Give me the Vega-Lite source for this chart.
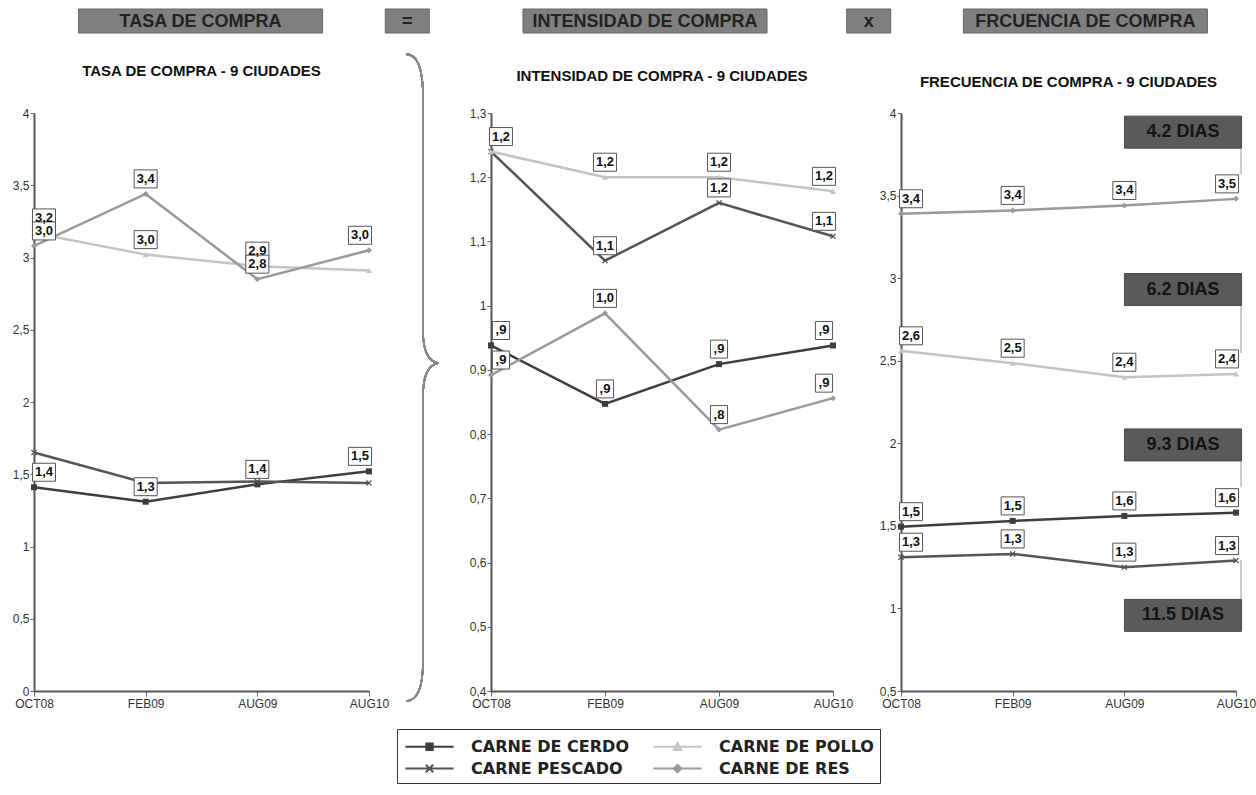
{
  "$schema": "https://vega.github.io/schema/vega-lite/v6.json",
  "background": "white",
  "padding": {"left": 12, "top": 8, "right": 0, "bottom": 0},
  "config": {
    "view": {"stroke": null},
    "axis": {"title": null, "grid": false, "domainColor": "#555", "domainWidth": 2, "tickColor": "#666", "labelFont": "Liberation Sans Narrow, Arial Narrow, Liberation Sans", "labelFontSize": 12, "labelColor": "#333"}
  },
  "datasets": {
    "cabecera": [
      {"t": "TASA DE COMPRA"}, {"t": "="}, {"t": "INTENSIDAD DE COMPRA"}, {"t": "x"}, {"t": "FRCUENCIA DE COMPRA"}
    ],
    "tasa": [
      {"serie": "CARNE DE CERDO", "periodo": "OCT08", "valor": 1.41, "etiqueta": "1,4"},
      {"serie": "CARNE DE CERDO", "periodo": "FEB09", "valor": 1.31, "etiqueta": "1,3"},
      {"serie": "CARNE DE CERDO", "periodo": "AUG09", "valor": 1.43, "etiqueta": "1,4"},
      {"serie": "CARNE DE CERDO", "periodo": "AUG10", "valor": 1.52, "etiqueta": "1,5"},
      {"serie": "CARNE PESCADO", "periodo": "OCT08", "valor": 1.65, "etiqueta": null},
      {"serie": "CARNE PESCADO", "periodo": "FEB09", "valor": 1.44, "etiqueta": null},
      {"serie": "CARNE PESCADO", "periodo": "AUG09", "valor": 1.45, "etiqueta": null},
      {"serie": "CARNE PESCADO", "periodo": "AUG10", "valor": 1.44, "etiqueta": null},
      {"serie": "CARNE DE POLLO", "periodo": "OCT08", "valor": 3.17, "etiqueta": "3,2"},
      {"serie": "CARNE DE POLLO", "periodo": "FEB09", "valor": 3.02, "etiqueta": "3,0"},
      {"serie": "CARNE DE POLLO", "periodo": "AUG09", "valor": 2.94, "etiqueta": "2,9"},
      {"serie": "CARNE DE POLLO", "periodo": "AUG10", "valor": 2.91, "etiqueta": null},
      {"serie": "CARNE DE RES", "periodo": "OCT08", "valor": 3.08, "etiqueta": "3,0"},
      {"serie": "CARNE DE RES", "periodo": "FEB09", "valor": 3.44, "etiqueta": "3,4"},
      {"serie": "CARNE DE RES", "periodo": "AUG09", "valor": 2.85, "etiqueta": "2,8"},
      {"serie": "CARNE DE RES", "periodo": "AUG10", "valor": 3.05, "etiqueta": "3,0"}
    ],
    "intensidad": [
      {"serie": "CARNE DE CERDO", "periodo": "OCT08", "valor": 0.938, "etiqueta": ",9"},
      {"serie": "CARNE DE CERDO", "periodo": "FEB09", "valor": 0.847, "etiqueta": ",9"},
      {"serie": "CARNE DE CERDO", "periodo": "AUG09", "valor": 0.909, "etiqueta": ",9"},
      {"serie": "CARNE DE CERDO", "periodo": "AUG10", "valor": 0.938, "etiqueta": ",9"},
      {"serie": "CARNE PESCADO", "periodo": "OCT08", "valor": 1.24, "etiqueta": null},
      {"serie": "CARNE PESCADO", "periodo": "FEB09", "valor": 1.07, "etiqueta": "1,1"},
      {"serie": "CARNE PESCADO", "periodo": "AUG09", "valor": 1.16, "etiqueta": "1,2"},
      {"serie": "CARNE PESCADO", "periodo": "AUG10", "valor": 1.108, "etiqueta": "1,1"},
      {"serie": "CARNE DE POLLO", "periodo": "OCT08", "valor": 1.24, "etiqueta": "1,2"},
      {"serie": "CARNE DE POLLO", "periodo": "FEB09", "valor": 1.2, "etiqueta": "1,2"},
      {"serie": "CARNE DE POLLO", "periodo": "AUG09", "valor": 1.2, "etiqueta": "1,2"},
      {"serie": "CARNE DE POLLO", "periodo": "AUG10", "valor": 1.178, "etiqueta": "1,2"},
      {"serie": "CARNE DE RES", "periodo": "OCT08", "valor": 0.892, "etiqueta": ",9"},
      {"serie": "CARNE DE RES", "periodo": "FEB09", "valor": 0.988, "etiqueta": "1,0"},
      {"serie": "CARNE DE RES", "periodo": "AUG09", "valor": 0.807, "etiqueta": ",8"},
      {"serie": "CARNE DE RES", "periodo": "AUG10", "valor": 0.856, "etiqueta": ",9"}
    ],
    "frecuencia": [
      {"serie": "CARNE DE CERDO", "periodo": "OCT08", "valor": 1.495, "etiqueta": "1,5"},
      {"serie": "CARNE DE CERDO", "periodo": "FEB09", "valor": 1.53, "etiqueta": "1,5"},
      {"serie": "CARNE DE CERDO", "periodo": "AUG09", "valor": 1.56, "etiqueta": "1,6"},
      {"serie": "CARNE DE CERDO", "periodo": "AUG10", "valor": 1.58, "etiqueta": "1,6"},
      {"serie": "CARNE PESCADO", "periodo": "OCT08", "valor": 1.31, "etiqueta": "1,3"},
      {"serie": "CARNE PESCADO", "periodo": "FEB09", "valor": 1.33, "etiqueta": "1,3"},
      {"serie": "CARNE PESCADO", "periodo": "AUG09", "valor": 1.25, "etiqueta": "1,3"},
      {"serie": "CARNE PESCADO", "periodo": "AUG10", "valor": 1.29, "etiqueta": "1,3"},
      {"serie": "CARNE DE POLLO", "periodo": "OCT08", "valor": 2.56, "etiqueta": "2,6"},
      {"serie": "CARNE DE POLLO", "periodo": "FEB09", "valor": 2.485, "etiqueta": "2,5"},
      {"serie": "CARNE DE POLLO", "periodo": "AUG09", "valor": 2.4, "etiqueta": "2,4"},
      {"serie": "CARNE DE POLLO", "periodo": "AUG10", "valor": 2.42, "etiqueta": "2,4"},
      {"serie": "CARNE DE RES", "periodo": "OCT08", "valor": 3.39, "etiqueta": "3,4"},
      {"serie": "CARNE DE RES", "periodo": "FEB09", "valor": 3.41, "etiqueta": "3,4"},
      {"serie": "CARNE DE RES", "periodo": "AUG09", "valor": 3.44, "etiqueta": "3,4"},
      {"serie": "CARNE DE RES", "periodo": "AUG10", "valor": 3.48, "etiqueta": "3,5"}
    ],
    "dias": [
      {"texto": "4.2 DIAS", "nivel": 3.884, "desde": 3.786, "hasta": 3.627},
      {"texto": "6.2 DIAS", "nivel": 2.931, "desde": 2.833, "hasta": 2.546},
      {"texto": "9.3 DIAS", "nivel": 1.99, "desde": 1.892, "hasta": 1.734},
      {"texto": "11.5 DIAS", "nivel": 0.958, "desde": 1.056, "hasta": 1.294}
    ]
  },
  "bounds": "flush",
  "spacing": 80,
  "vconcat": [
    {
      "width": 1216, "height": 24,
      "data": {"name": "cabecera"},
      "encoding": {"x": {"field": "t", "type": "nominal", "sort": null, "scale": {"type": "point", "padding": 0.73, "domain": ["TASA DE COMPRA", "=", "INTENSIDAD DE COMPRA", "x", "FRCUENCIA DE COMPRA"]}, "axis": null}},
      "layer": [
        {"transform": [{"filter": "length(datum.t) > 1"}], "mark": {"type": "bar", "width": 244, "color": "#7f7f7f", "stroke": "#666", "strokeWidth": 1, "xOffset": {"expr": "datum.t === 'TASA DE COMPRA' ? 4 : datum.t === 'INTENSIDAD DE COMPRA' ? 3 : -2"}}},
        {"transform": [{"filter": "length(datum.t) <= 1"}], "mark": {"type": "bar", "width": 44, "color": "#7f7f7f", "stroke": "#666", "strokeWidth": 1, "xOffset": {"expr": "datum.t === '=' ? -12 : 4"}}},
        {"mark": {"type": "text", "font": "Liberation Sans Narrow, Arial Narrow, Liberation Sans", "fontSize": 18, "fontWeight": "bold", "color": "#222", "baseline": "middle", "align": "center", "y": 13,
           "xOffset": {"expr": "datum.t === '=' ? -12 : datum.t === 'x' ? 4 : datum.t === 'TASA DE COMPRA' ? 4 : datum.t === 'INTENSIDAD DE COMPRA' ? 3 : -2"}},
         "encoding": {"text": {"field": "t"}}}
      ]
    },
    {
      "bounds": "flush",
      "spacing": 122,
      "hconcat": [
        {
          "width": 335, "height": 578,
          "title": {"text": "TASA DE COMPRA - 9 CIUDADES", "font": "Liberation Sans Narrow, Arial Narrow, Liberation Sans", "fontSize": 15, "fontWeight": "bold", "color": "#111", "offset": 28},
          "data": {"name": "tasa"},
          "encoding": {
            "x": {"field": "periodo", "type": "nominal", "sort": ["OCT08", "FEB09", "AUG09", "AUG10"], "scale": {"type": "point", "padding": 0}, "axis": {"labelAngle": 0, "tickSize": 5, "labelPadding": 2}},
            "y": {"field": "valor", "type": "quantitative", "scale": {"domain": [0, 4], "nice": false, "zero": false}, "axis": {"values": [0, 0.5, 1, 1.5, 2, 2.5, 3, 3.5, 4], "format": "~g", "labelExpr": "replace(datum.label, '.', ',')", "tickSize": 4, "labelPadding": 1}}
          },
          "layer": [
            {"mark": {"type": "line", "strokeWidth": 2.5},
             "encoding": {"color": {"field": "serie", "type": "nominal", "scale": {"domain": ["CARNE DE CERDO", "CARNE DE POLLO", "CARNE PESCADO", "CARNE DE RES"], "range": ["#3d3d3d", "#c4c4c4", "#555555", "#9a9a9a"]},
               "legend": {"title": null, "orient": "none", "legendX": 363, "legendY": 720, "direction": "horizontal", "columns": 2, "columnPadding": 20, "rowPadding": 2, "padding": 6, "strokeColor": "#333", "fillColor": "white", "symbolSize": 441, "symbolStrokeWidth": 2, "labelFont": "DejaVu Sans", "labelFontSize": 16, "labelFontWeight": "bold", "labelColor": "#222", "labelOffset": 45, "labelLimit": 400,
                 "encode": {"symbols": {"update": {"shape": {"signal": "datum.value === 'CARNE DE CERDO' ? 'M-0.86,0H3.72M1.13,-0.3H1.73V0.3H1.13Z' : datum.value === 'CARNE DE POLLO' ? 'M-0.86,0H3.72M1.43,-0.35L1.78,0.3H1.08Z' : datum.value === 'CARNE PESCADO' ? 'M-0.86,0H3.72M1.08,-0.35L1.78,0.35M1.08,0.35L1.78,-0.35' : 'M-0.86,0H3.72M1.43,-0.35L1.78,0L1.43,0.35L1.08,0Z'"}, "fill": {"scale": "color", "field": "value"}, "stroke": {"scale": "color", "field": "value"}, "strokeWidth": {"value": 2}}}}}}}},
            {"mark": {"type": "point", "filled": true, "size": 36, "opacity": 1,
               "shape": {"expr": "datum.serie === 'CARNE DE CERDO' ? 'square' : datum.serie === 'CARNE DE POLLO' ? 'triangle-up' : datum.serie === 'CARNE PESCADO' ? 'M-1,-0.7L-0.7,-1L0,-0.3L0.7,-1L1,-0.7L0.3,0L1,0.7L0.7,1L0,0.3L-0.7,1L-1,0.7L-0.3,0Z' : 'diamond'"}},
             "encoding": {"color": {"field": "serie", "type": "nominal", "scale": {"domain": ["CARNE DE CERDO", "CARNE DE POLLO", "CARNE PESCADO", "CARNE DE RES"], "range": ["#3d3d3d", "#c4c4c4", "#555555", "#9a9a9a"]}}}},
            {"transform": [{"filter": "datum.etiqueta != null"}],
             "mark": {"type": "point", "filled": true, "fill": "white", "stroke": "#555", "strokeWidth": 1, "opacity": 1, "size": 324, "yOffset": -15,
               "xOffset": {"expr": "datum.periodo === 'OCT08' ? 10 : datum.periodo === 'AUG10' ? -9 : 0"},
               "shape": {"expr": "length(datum.etiqueta) > 2 ? 'M-1.28,-1H1.28V1H-1.28Z' : 'M-0.95,-1H0.95V1H-0.95Z'"}}},
            {"transform": [{"filter": "datum.etiqueta != null"}],
             "mark": {"type": "text", "font": "Liberation Sans", "fontSize": 13, "fontWeight": "bold", "color": "#111", "baseline": "middle", "align": "center", "yOffset": -15,
               "xOffset": {"expr": "datum.periodo === 'OCT08' ? 10 : datum.periodo === 'AUG10' ? -9 : 0"}},
             "encoding": {"text": {"field": "etiqueta"}}}
          ]
        },
        {
          "bounds": "flush",
          "spacing": 68,
          "hconcat": [
            {
              "width": 342, "height": 578,
              "title": {"text": "INTENSIDAD DE COMPRA - 9 CIUDADES", "font": "Liberation Sans Narrow, Arial Narrow, Liberation Sans", "fontSize": 15, "fontWeight": "bold", "color": "#111", "offset": -33},
              "data": {"name": "intensidad"},
              "encoding": {
                "x": {"field": "periodo", "type": "nominal", "sort": ["OCT08", "FEB09", "AUG09", "AUG10"], "scale": {"type": "point", "padding": 0}, "axis": {"labelAngle": 0, "tickSize": 5, "labelPadding": 2}},
                "y": {"field": "valor", "type": "quantitative", "scale": {"domain": [0.4, 1.3], "nice": false, "zero": false}, "axis": {"values": [0.4, 0.5, 0.6, 0.7, 0.8, 0.9, 1, 1.1, 1.2, 1.3], "format": "~g", "labelExpr": "replace(datum.label, '.', ',')", "tickSize": 4, "labelPadding": 1}}
              },
              "layer": [
                {"mark": {"type": "point", "filled": false, "fill": null, "stroke": "#888", "strokeWidth": 1.6, "opacity": 1, "size": 418609, "xOffset": -68,
                  "shape": "M-0.0526,-1C-0.02,-1 0,-0.96 0,-0.869L0,-0.144C0,-0.08 0.02,-0.05 0.0464,-0.0448C0.02,-0.04 0,-0.01 0,0.057L0,0.876C0,0.96 -0.02,1 -0.0526,1"},
                 "encoding": {"x": {"datum": "OCT08"}, "y": {"datum": 0.888}}},
                {"mark": {"type": "line", "strokeWidth": 2.5},
                 "encoding": {"color": {"field": "serie", "type": "nominal", "scale": {"domain": ["CARNE DE CERDO", "CARNE DE POLLO", "CARNE PESCADO", "CARNE DE RES"], "range": ["#3d3d3d", "#c4c4c4", "#555555", "#9a9a9a"]},
                   "legend": {"title": null, "orient": "none", "legendX": 363, "legendY": 720, "direction": "horizontal", "columns": 2, "columnPadding": 20, "rowPadding": 2, "padding": 6, "strokeColor": "#333", "fillColor": "white", "symbolSize": 441, "symbolStrokeWidth": 2, "labelFont": "DejaVu Sans", "labelFontSize": 16, "labelFontWeight": "bold", "labelColor": "#222", "labelOffset": 45, "labelLimit": 400,
                     "encode": {"symbols": {"update": {"shape": {"signal": "datum.value === 'CARNE DE CERDO' ? 'M-0.86,0H3.72M1.13,-0.3H1.73V0.3H1.13Z' : datum.value === 'CARNE DE POLLO' ? 'M-0.86,0H3.72M1.43,-0.35L1.78,0.3H1.08Z' : datum.value === 'CARNE PESCADO' ? 'M-0.86,0H3.72M1.08,-0.35L1.78,0.35M1.08,0.35L1.78,-0.35' : 'M-0.86,0H3.72M1.43,-0.35L1.78,0L1.43,0.35L1.08,0Z'"}, "fill": {"scale": "color", "field": "value"}, "stroke": {"scale": "color", "field": "value"}, "strokeWidth": {"value": 2}}}}}}}},
                {"mark": {"type": "point", "filled": true, "size": 36, "opacity": 1,
                   "shape": {"expr": "datum.serie === 'CARNE DE CERDO' ? 'square' : datum.serie === 'CARNE DE POLLO' ? 'triangle-up' : datum.serie === 'CARNE PESCADO' ? 'M-1,-0.7L-0.7,-1L0,-0.3L0.7,-1L1,-0.7L0.3,0L1,0.7L0.7,1L0,0.3L-0.7,1L-1,0.7L-0.3,0Z' : 'diamond'"}},
                 "encoding": {"color": {"field": "serie", "type": "nominal", "scale": {"domain": ["CARNE DE CERDO", "CARNE DE POLLO", "CARNE PESCADO", "CARNE DE RES"], "range": ["#3d3d3d", "#c4c4c4", "#555555", "#9a9a9a"]}}}},
                {"transform": [{"filter": "datum.etiqueta != null"}],
                 "mark": {"type": "point", "filled": true, "fill": "white", "stroke": "#555", "strokeWidth": 1, "opacity": 1, "size": 324, "yOffset": -15,
                   "xOffset": {"expr": "datum.periodo === 'OCT08' ? 10 : datum.periodo === 'AUG10' ? -9 : 0"},
                   "shape": {"expr": "length(datum.etiqueta) > 2 ? 'M-1.28,-1H1.28V1H-1.28Z' : 'M-0.95,-1H0.95V1H-0.95Z'"}}},
                {"transform": [{"filter": "datum.etiqueta != null"}],
                 "mark": {"type": "text", "font": "Liberation Sans", "fontSize": 13, "fontWeight": "bold", "color": "#111", "baseline": "middle", "align": "center", "yOffset": -15,
                   "xOffset": {"expr": "datum.periodo === 'OCT08' ? 10 : datum.periodo === 'AUG10' ? -9 : 0"}},
                 "encoding": {"text": {"field": "etiqueta"}}}
              ]
            },
            {
              "width": 335, "height": 578,
              "title": {"text": "FRECUENCIA DE COMPRA - 9 CIUDADES", "font": "Liberation Sans Narrow, Arial Narrow, Liberation Sans", "fontSize": 15, "fontWeight": "bold", "color": "#111", "offset": 17},
              "data": {"name": "frecuencia"},
              "encoding": {
                "x": {"field": "periodo", "type": "nominal", "sort": ["OCT08", "FEB09", "AUG09", "AUG10"], "scale": {"type": "point", "padding": 0}, "axis": {"labelAngle": 0, "tickSize": 5, "labelPadding": 2}},
                "y": {"field": "valor", "type": "quantitative", "scale": {"domain": [0.5, 4], "nice": false, "zero": false}, "axis": {"values": [0.5, 1, 1.5, 2, 2.5, 3, 3.5, 4], "format": "~g", "labelExpr": "replace(datum.label, '.', ',')", "tickSize": 4, "labelPadding": 1}}
              },
              "layer": [
                {"mark": {"type": "line", "strokeWidth": 2.5},
                 "encoding": {"color": {"field": "serie", "type": "nominal", "scale": {"domain": ["CARNE DE CERDO", "CARNE DE POLLO", "CARNE PESCADO", "CARNE DE RES"], "range": ["#3d3d3d", "#c4c4c4", "#555555", "#9a9a9a"]},
                   "legend": {"title": null, "orient": "none", "legendX": 363, "legendY": 720, "direction": "horizontal", "columns": 2, "columnPadding": 20, "rowPadding": 2, "padding": 6, "strokeColor": "#333", "fillColor": "white", "symbolSize": 441, "symbolStrokeWidth": 2, "labelFont": "DejaVu Sans", "labelFontSize": 16, "labelFontWeight": "bold", "labelColor": "#222", "labelOffset": 45, "labelLimit": 400,
                     "encode": {"symbols": {"update": {"shape": {"signal": "datum.value === 'CARNE DE CERDO' ? 'M-0.86,0H3.72M1.13,-0.3H1.73V0.3H1.13Z' : datum.value === 'CARNE DE POLLO' ? 'M-0.86,0H3.72M1.43,-0.35L1.78,0.3H1.08Z' : datum.value === 'CARNE PESCADO' ? 'M-0.86,0H3.72M1.08,-0.35L1.78,0.35M1.08,0.35L1.78,-0.35' : 'M-0.86,0H3.72M1.43,-0.35L1.78,0L1.43,0.35L1.08,0Z'"}, "fill": {"scale": "color", "field": "value"}, "stroke": {"scale": "color", "field": "value"}, "strokeWidth": {"value": 2}}}}}}}},
                {"mark": {"type": "point", "filled": true, "size": 36, "opacity": 1,
                   "shape": {"expr": "datum.serie === 'CARNE DE CERDO' ? 'square' : datum.serie === 'CARNE DE POLLO' ? 'triangle-up' : datum.serie === 'CARNE PESCADO' ? 'M-1,-0.7L-0.7,-1L0,-0.3L0.7,-1L1,-0.7L0.3,0L1,0.7L0.7,1L0,0.3L-0.7,1L-1,0.7L-0.3,0Z' : 'diamond'"}},
                 "encoding": {"color": {"field": "serie", "type": "nominal", "scale": {"domain": ["CARNE DE CERDO", "CARNE DE POLLO", "CARNE PESCADO", "CARNE DE RES"], "range": ["#3d3d3d", "#c4c4c4", "#555555", "#9a9a9a"]}}}},
                {"transform": [{"filter": "datum.etiqueta != null"}],
                 "mark": {"type": "point", "filled": true, "fill": "white", "stroke": "#555", "strokeWidth": 1, "opacity": 1, "size": 324, "yOffset": -15,
                   "xOffset": {"expr": "datum.periodo === 'OCT08' ? 10 : datum.periodo === 'AUG10' ? -9 : 0"},
                   "shape": {"expr": "length(datum.etiqueta) > 2 ? 'M-1.28,-1H1.28V1H-1.28Z' : 'M-0.95,-1H0.95V1H-0.95Z'"}}},
                {"transform": [{"filter": "datum.etiqueta != null"}],
                 "mark": {"type": "text", "font": "Liberation Sans", "fontSize": 13, "fontWeight": "bold", "color": "#111", "baseline": "middle", "align": "center", "yOffset": -15,
                   "xOffset": {"expr": "datum.periodo === 'OCT08' ? 10 : datum.periodo === 'AUG10' ? -9 : 0"}},
                 "encoding": {"text": {"field": "etiqueta"}}},
                {"data": {"name": "dias"},
                 "mark": {"type": "rule", "color": "#aaa", "strokeWidth": 1.2, "xOffset": 5},
                 "encoding": {"x": {"datum": "AUG10"}, "y": {"field": "desde", "type": "quantitative"}, "y2": {"field": "hasta"}}},
                {"data": {"name": "dias"},
                 "mark": {"type": "point", "filled": true, "fill": "#5a5a5a", "stroke": "#4a4a4a", "strokeWidth": 1, "opacity": 1, "size": 4096, "xOffset": -53, "shape": "M-1.83,-0.5H1.83V0.5H-1.83Z"},
                 "encoding": {"x": {"datum": "AUG10"}, "y": {"field": "nivel", "type": "quantitative"}}},
                {"data": {"name": "dias"},
                 "mark": {"type": "text", "font": "Liberation Sans Narrow, Arial Narrow, Liberation Sans", "fontSize": 18, "fontWeight": "bold", "color": "#141414", "baseline": "middle", "align": "center", "xOffset": -53},
                 "encoding": {"x": {"datum": "AUG10"}, "y": {"field": "nivel", "type": "quantitative"}, "text": {"field": "texto"}}}
              ]
            }
          ]
        }
      ]
    }
  ]
}
